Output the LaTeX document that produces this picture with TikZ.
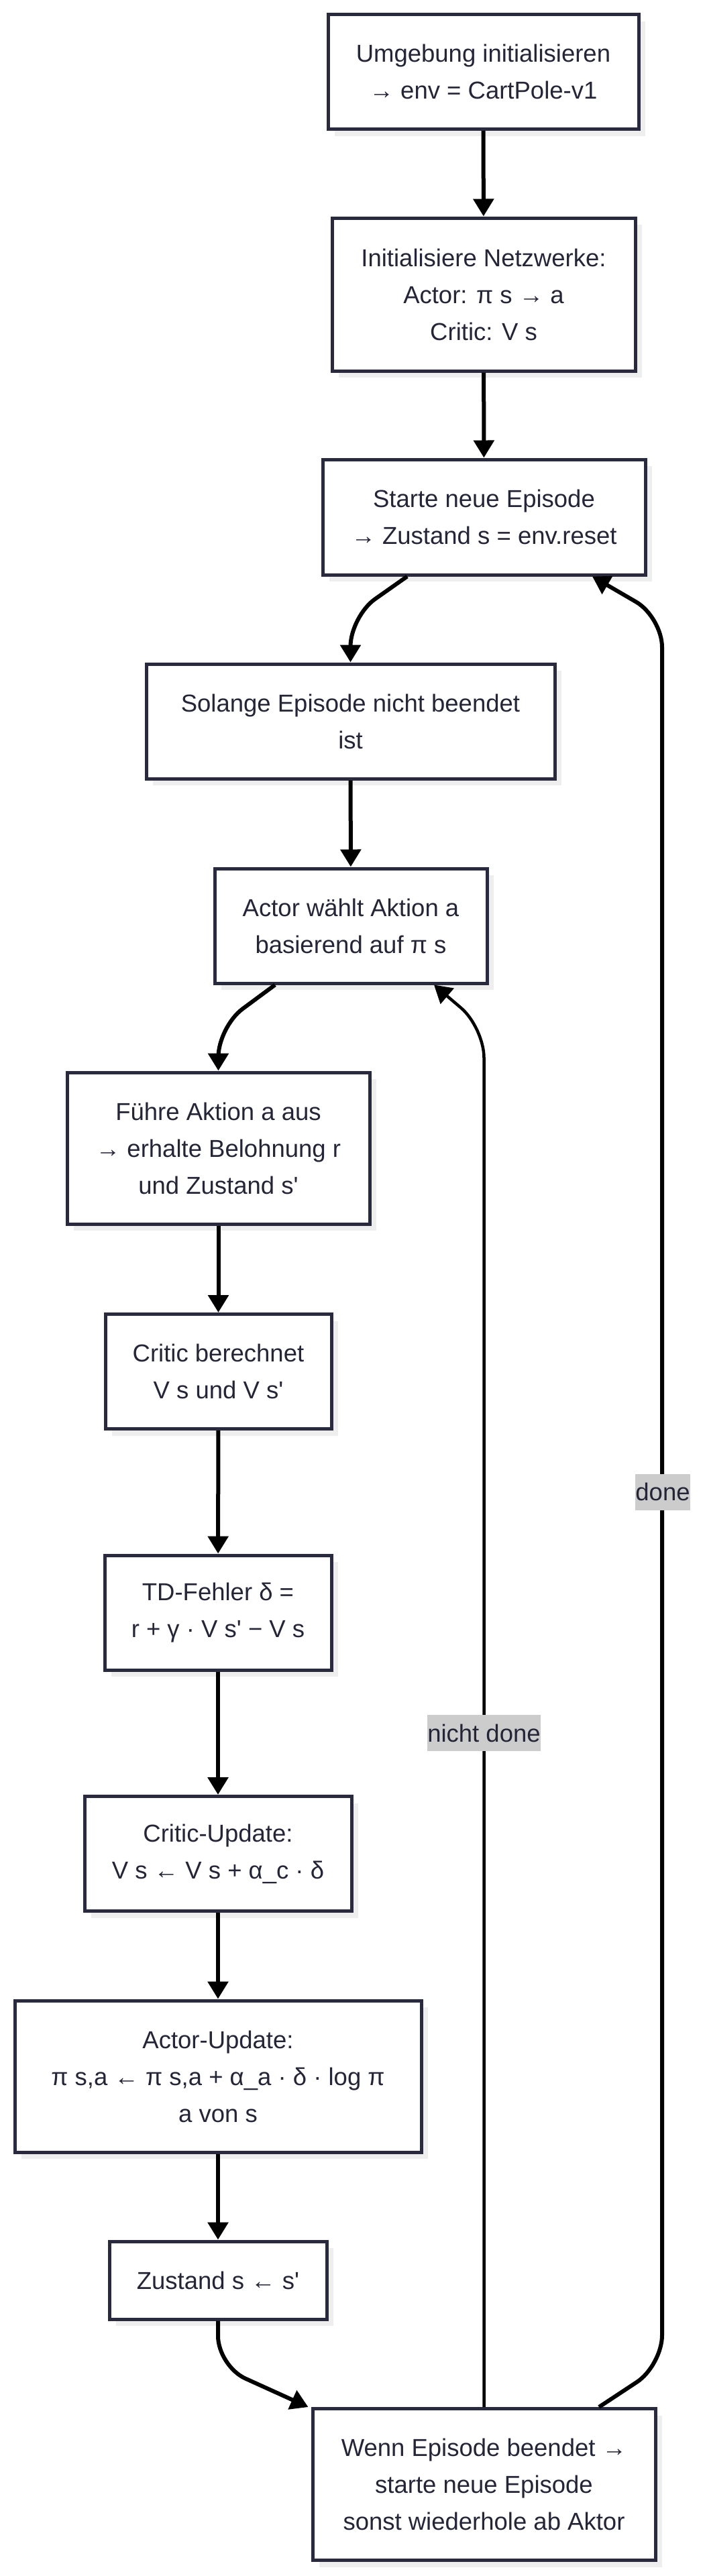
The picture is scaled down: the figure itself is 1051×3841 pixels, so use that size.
\documentclass[tikz,border=0pt]{standalone}
\usepackage{fontspec}
\setmainfont{Liberation Sans}
\usetikzlibrary{arrows.meta,shadows}
\definecolor{boxline}{RGB}{42,42,62}
\definecolor{txt}{RGB}{37,37,56}
\definecolor{shade}{RGB}{238,238,238}
\definecolor{lblbg}{RGB}{204,204,204}
\newcommand{\apos}{\textquotesingle}
\begin{document}
\begin{tikzpicture}[x=1pt,y=-1pt,
  box/.style={draw=boxline, line width=5pt, fill=white, align=center, text=txt, inner sep=0pt,
    font=\fontsize{36.5pt}{55pt}\selectfont,
    drop shadow={shadow xshift=10pt, shadow yshift=-10pt, fill=shade, opacity=1}},
  edge/.style={draw=black, line width=6pt, -{Triangle[length=26pt,width=30pt]}, rounded corners=45pt},
  thinedge/.style={edge, line width=4.5pt},
  lbl/.style={fill=lblbg, text=txt, inner sep=0pt, minimum height=54pt, font=\fontsize{36.5pt}{55pt}\selectfont}]
\useasboundingbox (0,0) rectangle (1051,3841);
\fill[white] (0,0) rectangle (1051,3841);

\node[box, minimum width=463pt, minimum height=171pt] (b1) at (720.5,107) {Umgebung initialisieren\\→ env = CartPole-v1};
\node[box, minimum width=452pt, minimum height=228pt] (b2) at (721,439) {Initialisiere Netzwerke:\\Actor: π s → a\\Critic: V s};
\node[box, minimum width=481pt, minimum height=172pt] (b3) at (721.5,771) {Starte neue Episode\\→ Zustand s = env.reset};
\node[box, minimum width=609pt, minimum height=171pt] (b4) at (522.5,1075.5) {Solange Episode nicht beendet\\ist};
\node[box, minimum width=406pt, minimum height=171pt] (b5) at (523,1380.5) {Actor wählt Aktion a\\basierend auf π s};
\node[box, minimum width=451pt, minimum height=226pt] (b6) at (325.5,1712) {Führe Aktion a aus\\→ erhalte Belohnung r\\und Zustand s\apos};
\node[box, minimum width=337pt, minimum height=171pt] (b7) at (325.5,2045) {Critic berechnet\\V s und V s\apos};
\node[box, minimum width=338pt, minimum height=171pt] (b8) at (325,2404.5) {TD-Fehler δ =\\r + γ · V s\apos{} − V s};
\node[box, minimum width=398pt, minimum height=171pt] (b9) at (325,2764) {Critic-Update:\\V s ← V s + α\_c · δ};
\node[box, minimum width=606pt, minimum height=226pt] (b10) at (325,3096) {Actor-Update:\\π s,a ← π s,a + α\_a · δ · log π\\a von s};
\node[box, minimum width=324pt, minimum height=116pt] (b11) at (325,3400) {Zustand s ← s\apos};
\node[box, minimum width=511pt, minimum height=226pt] (b12) at (721.5,3704.5) {Wenn Episode beendet →\\starte neue Episode\\sonst wiederhole ab Aktor};

\draw[edge] (b1) -- (b2);
\draw[edge] (b2) -- (b3);
\draw[edge] ([xshift=-114.5pt]b3.south) -- (522.5,919) -- (b4.north);
\draw[edge] (b4) -- (b5);
\draw[edge] ([xshift=-113pt]b5.south) -- (325.5,1531) -- (b6.north);
\draw[edge] (b6) -- (b7);
\draw[edge] (b7) -- (b8);
\draw[edge] (b8) -- (b9);
\draw[edge] (b9) -- (b10);
\draw[edge] (b10) -- (b11);
\draw[edge] (b11.south) -- (325,3528) -- ([xshift=-4pt]b12.north west);
\draw[thinedge] (b12.north) -- (721.5,1532) -- ([xshift=124pt]b5.south);
\draw[edge] ([xshift=171.5pt]b12.north) -- (987,3527) -- (987,920) -- ([xshift=161.5pt]b3.south);

\node[lbl] (lnd) at (721.5,2584) {nicht done};
\node[lbl] (ld) at (988,2224.5) {done};
\end{tikzpicture}
\end{document}
